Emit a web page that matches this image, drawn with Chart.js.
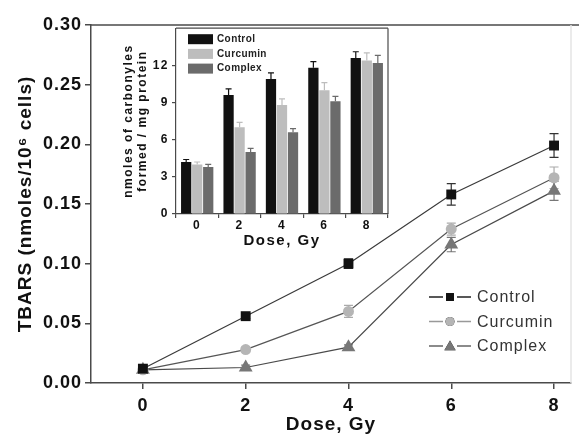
<!DOCTYPE html>
<html>
<head>
<meta charset="utf-8">
<script src="https://cdn.jsdelivr.net/npm/chart.js@4.4.1/dist/chart.umd.min.js"></script>
<style>
    body { margin: 0; background: #fff; }
    #wrap { position: relative; width: 579px; height: 443px; }
    #mainChart { position: absolute; left: 0; top: 0; }
    #insetChart { position: absolute; left: 110px; top: 18px; }
</style>
</head>
<body>
<div id="wrap">
    <canvas id="mainChart" width="579" height="443"></canvas>
    <canvas id="insetChart" width="285" height="232"></canvas>
</div>
<script>
// main plot: TBARS vs dose
const doses = [0, 2, 4, 6, 8];
const controlTbars = [0.012, 0.056, 0.100, 0.158, 0.199];
const controlErr = [0.003, 0.002, 0.004, 0.009, 0.010];
const curcuminTbars = [0.011, 0.028, 0.060, 0.129, 0.172];
const curcuminErr = [0.003, 0.002, 0.005, 0.005, 0.009];
const complexTbars = [0.011, 0.013, 0.030, 0.116, 0.161];
const complexErr = [0.003, 0.002, 0.002, 0.006, 0.008];

// inset: carbonyls bar chart
const insetLabels = ['0', '2', '4', '6', '8'];
const controlCarb = [4.2, 9.6, 10.9, 11.8, 12.6];
const controlCarbErr = [0.2, 0.5, 0.5, 0.5, 0.5];
const curcuminCarb = [4.0, 7.0, 8.8, 10.0, 12.4];
const curcuminCarbErr = [0.2, 0.4, 0.5, 0.6, 0.6];
const complexCarb = [3.8, 5.0, 6.6, 9.1, 12.2];
const complexCarbErr = [0.2, 0.3, 0.3, 0.4, 0.6];

const FONT = '"Liberation Sans", Arial, sans-serif';
const AXIS = '#4a4a4a';

const toPoints = (vals) => vals.map((v, i) => ({ x: doses[i], y: v }));

// the figure's lettering is a bit wider than Liberation Sans
const spacing = {
    id: 'spacing',
    beforeDraw(chart, args, opts) {
        chart.ctx.letterSpacing = opts.px + 'px';
    }
};

// error bars for both charts
const errorBars = {
    id: 'errorBars',
    beforeDatasetsDraw(chart, args, opts) {
        const ctx = chart.ctx;
        const yScale = chart.scales.y;
        chart.data.datasets.forEach((ds, di) => {
            const meta = chart.getDatasetMeta(di);
            ctx.save();
            ctx.strokeStyle = ds.errColor;
            ctx.lineWidth = 1.2;
            meta.data.forEach((el, i) => {
                const v = ds.data[i].y !== undefined ? ds.data[i].y : ds.data[i];
                const e = ds.err[i];
                const top = yScale.getPixelForValue(v + e);
                const bot = opts.upOnly ? el.y : yScale.getPixelForValue(v - e);
                const w = opts.cap;
                ctx.beginPath();
                ctx.moveTo(el.x, top); ctx.lineTo(el.x, bot);
                ctx.moveTo(el.x - w, top); ctx.lineTo(el.x + w, top);
                if (!opts.upOnly) { ctx.moveTo(el.x - w, bot); ctx.lineTo(el.x + w, bot); }
                ctx.stroke();
            });
            ctx.restore();
        });
    }
};

// frame round the plot area
const frame = {
    id: 'frame',
    beforeDraw(chart, args, opts) {
        const a = chart.chartArea;
        const ctx = chart.ctx;
        ctx.save();
        ctx.fillStyle = '#fff';
        ctx.fillRect(a.left, a.top, a.right - a.left, a.bottom - a.top);
        ctx.restore();
    },
    afterDraw(chart, args, opts) {
        const a = chart.chartArea;
        const ctx = chart.ctx;
        ctx.save();
        ctx.lineWidth = opts.width;
        ctx.strokeStyle = AXIS;
        ctx.beginPath();
        ctx.moveTo(a.left, a.top); ctx.lineTo(opts.topTo || a.right, a.top);
        ctx.stroke();
        ctx.strokeStyle = opts.rightColor || AXIS;
        ctx.beginPath();
        ctx.moveTo(a.right, a.top); ctx.lineTo(a.right, a.bottom);
        ctx.stroke();
        ctx.restore();
    }
};

// legend of the line plot: line - marker - line
const lineLegend = {
    id: 'lineLegend',
    afterDraw(chart) {
        const ctx = chart.ctx;
        chart.data.datasets.forEach((ds, i) => {
            const y = 297 + i * 24.5;
            ctx.save();
            ctx.strokeStyle = ds.legendLine;
            ctx.lineWidth = 1.5;
            ctx.beginPath();
            ctx.moveTo(429, y); ctx.lineTo(443, y);
            ctx.moveTo(457, y); ctx.lineTo(471, y);
            ctx.stroke();
            Chart.helpers.drawPoint(ctx, {
                pointStyle: ds.pointStyle,
                radius: ds.pointStyle === 'triangle' ? 6.5 : (ds.pointStyle === 'rect' ? 5.5 : 4.5),
                borderWidth: 0
            }, 450, y + (ds.pointStyle === 'triangle' ? 1 : 0));
            ctx.fillStyle = ds.pointBackgroundColor;
            ctx.fill();
            ctx.fillStyle = '#333';
            ctx.font = '16px ' + FONT;
            ctx.textBaseline = 'middle';
            ctx.fillText(ds.label, 477, y + 1);
            ctx.restore();
        });
    }
};

// legend of the inset: filled boxes
const barLegend = {
    id: 'barLegend',
    afterDraw(chart) {
        const ctx = chart.ctx;
        const a = chart.chartArea;
        chart.data.datasets.forEach((ds, i) => {
            const y = a.top + 11 + i * 14.7;
            ctx.save();
            ctx.letterSpacing = '0.4px';
            ctx.fillStyle = ds.backgroundColor;
            ctx.fillRect(a.left + 12, y - 5, 25, 10);
            ctx.fillStyle = '#222';
            ctx.font = 'bold 10px ' + FONT;
            ctx.textBaseline = 'middle';
            ctx.fillText(ds.label, a.left + 41, y);
            ctx.restore();
        });
    }
};

const mainCtx = document.getElementById('mainChart').getContext('2d');
new Chart(mainCtx, {
    type: 'line',
    data: {
        datasets: [
            {
                label: 'Control', data: toPoints(controlTbars), err: controlErr,
                borderColor: '#3a3a3a', borderWidth: 1.2, pointStyle: 'rect', pointRadius: 7,
                pointBackgroundColor: '#111', pointBorderWidth: 0, errColor: '#333', legendLine: '#222'
            },
            {
                label: 'Curcumin', data: toPoints(curcuminTbars), err: curcuminErr,
                borderColor: '#555', borderWidth: 1.2, pointStyle: 'circle', pointRadius: 5.5,
                pointBackgroundColor: '#b5b5b5', pointBorderWidth: 0, errColor: '#aaa', legendLine: '#999'
            },
            {
                label: 'Complex', data: toPoints(complexTbars), err: complexErr,
                borderColor: '#4a4a4a', borderWidth: 1.2, pointStyle: 'triangle', pointRadius: 8,
                pointBackgroundColor: '#777', pointBorderWidth: 0, errColor: '#777', legendLine: '#666'
            }
        ]
    },
    options: {
        responsive: false,
        animation: false,
        layout: { padding: { top: 25, right: 7, left: 0, bottom: 0 } },
        scales: {
            x: {
                type: 'linear', min: -1.01, max: 8.33,
                afterBuildTicks: (axis) => { axis.ticks = doses.map(v => ({ value: v })); },
                afterFit: (axis) => { axis.height = 60; },
                grid: { drawOnChartArea: false, tickLength: 6, color: AXIS, lineWidth: 1.5 },
                border: { color: AXIS, width: 1.5 },
                ticks: { color: '#111', font: { family: FONT, size: 18, weight: 'bold' }, padding: 6 },
                title: { display: true, text: 'Dose, Gy', color: '#111', font: { family: FONT, size: 19, weight: 'bold' }, padding: { top: 0, bottom: 7 } }
            },
            y: {
                min: 0, max: 0.30,
                afterFit: (axis) => { axis.width = 91; },
                grid: { drawOnChartArea: false, tickLength: 6, color: AXIS, lineWidth: 1.5 },
                border: { color: AXIS, width: 1.5 },
                ticks: {
                    stepSize: 0.05, color: '#111', padding: 3,
                    font: { family: FONT, size: 18, weight: 'bold' },
                    callback: (v) => v.toFixed(2)
                },
                title: { display: true, text: 'TBARS (nmoles/10\u2076 cells)', color: '#111', font: { family: FONT, size: 19, weight: 'bold' }, padding: { top: 14, bottom: 0 } }
            }
        },
        plugins: {
            legend: { display: false },
            tooltip: { enabled: false },
            spacing: { px: 1 },
            errorBars: { cap: 4.5, upOnly: false },
            frame: { width: 1.5, topTo: 579, rightColor: '#e4e4e4' }
        }
    },
    plugins: [spacing, frame, errorBars, lineLegend]
});

const insetCtx = document.getElementById('insetChart').getContext('2d');
new Chart(insetCtx, {
    type: 'bar',
    data: {
        labels: insetLabels,
        datasets: [
            { label: 'Control', data: controlCarb, err: controlCarbErr, backgroundColor: '#111', errColor: '#111' },
            { label: 'Curcumin', data: curcuminCarb, err: curcuminCarbErr, backgroundColor: '#bdbdbd', errColor: '#bdbdbd' },
            { label: 'Complex', data: complexCarb, err: complexCarbErr, backgroundColor: '#6b6b6b', errColor: '#6b6b6b' }
        ]
    },
    options: {
        responsive: false,
        animation: false,
        layout: { padding: { top: 8, right: 7, left: 0, bottom: 0 } },
        datasets: { bar: { categoryPercentage: 0.78, barPercentage: 0.93 } },
        scales: {
            x: {
                afterFit: (axis) => { axis.height = 36; },
                grid: { drawOnChartArea: false, tickLength: 4, color: AXIS, lineWidth: 1.2, offset: true },
                border: { color: AXIS, width: 1.2 },
                ticks: { color: '#111', font: { family: FONT, size: 12, weight: 'bold' }, padding: 0 },
                title: { display: true, text: 'Dose, Gy', color: '#111', font: { family: FONT, size: 15, weight: 'bold' }, padding: 0 }
            },
            y: {
                min: 0, max: 15,
                afterBuildTicks: (axis) => { axis.ticks = axis.ticks.filter(t => t.value <= 12); },
                afterFit: (axis) => { axis.width = 66; },
                grid: { drawOnChartArea: false, tickLength: 4, color: AXIS, lineWidth: 1.2 },
                border: { color: AXIS, width: 1.2 },
                ticks: { stepSize: 3, color: '#111', padding: 3, font: { family: FONT, size: 12, weight: 'bold' } },
                title: {
                    display: true, text: ['nmoles of carbonyles', 'formed / mg protein'], color: '#111',
                    font: { family: FONT, size: 12, weight: 'bold', lineHeight: 1.2 }, padding: { top: 11, bottom: 0 }
                }
            }
        },
        plugins: {
            legend: { display: false },
            tooltip: { enabled: false },
            spacing: { px: 1.5 },
            errorBars: { cap: 3, upOnly: true },
            frame: { width: 1.2 }
        }
    },
    plugins: [spacing, frame, errorBars, barLegend]
});
</script>
</body>
</html>
